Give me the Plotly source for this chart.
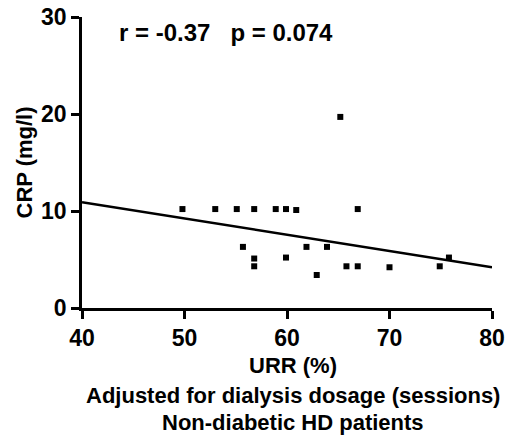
import plotly.graph_objects as go

# Data
urr = [49.8, 53.0, 55.1, 56.8, 58.9, 59.9, 60.9, 66.9, 65.2,
       55.7, 56.8, 56.8, 59.9, 61.9, 62.9, 63.9, 65.8, 66.9, 70.0, 74.9, 75.8]
crp = [10.2, 10.2, 10.2, 10.2, 10.2, 10.2, 10.1, 10.2, 19.7,
       6.3, 5.1, 4.3, 5.2, 6.3, 3.4, 6.3, 4.3, 4.3, 4.2, 4.3, 5.2]
fit_x = [40, 80]
fit_y = [10.9, 4.2]
x_ticks = [40, 50, 60, 70, 80]
y_ticks = [0, 10, 20, 30]

FONT = "Liberation Sans, Arial, sans-serif"

fig = go.Figure()
fig.add_trace(go.Scatter(x=fit_x, y=fit_y, mode="lines",
                         line=dict(color="black", width=2.5), showlegend=False,
                         cliponaxis=False))
fig.add_trace(go.Scatter(x=urr, y=crp, mode="markers",
                         marker=dict(symbol="square", size=6, color="black"),
                         showlegend=False))

axis_common = dict(showgrid=False, zeroline=False, automargin=False,
                   showline=True, linecolor="black", linewidth=2.5,
                   ticks="outside", ticklen=8, tickwidth=2.5, tickcolor="black",
                   ticklabeloverflow="allow",
                   tickfont=dict(size=23, family=FONT, weight="bold"), fixedrange=True)

# page body has an 8px margin, so the figure is offset by (8, 8)
fig.update_layout(
    width=505, height=431,
    margin=dict(l=74, r=21, t=9, b=131),
    paper_bgcolor="white", plot_bgcolor="white",
    font=dict(family=FONT, color="black"),
    xaxis=dict(range=[40, 80], tickvals=x_ticks, **axis_common),
    yaxis=dict(range=[0, 30], tickvals=y_ticks, **axis_common),
)

fig.add_annotation(xref="paper", yref="paper", x=0, y=0.5, xshift=-58,
                   xanchor="center", yanchor="middle", showarrow=False, textangle=-90,
                   text="<b>CRP (mg/l)</b>", font=dict(size=22, family=FONT))

fig.add_annotation(xref="paper", yref="paper", x=0, y=1, xshift=35, yshift=-15,
                   xanchor="left", yanchor="middle", showarrow=False,
                   text="<b>r = -0.37   p = 0.074</b>", font=dict(size=24, family=FONT))

for txt, shift in [("URR (%)", -57), ("Adjusted for dialysis dosage (sessions)", -87),
                   ("Non-diabetic HD patients", -114)]:
    fig.add_annotation(xref="paper", yref="paper", x=0.5, y=0, yshift=shift, xshift=6,
                       xanchor="center", yanchor="middle", showarrow=False,
                       text="<b>" + txt + "</b>", font=dict(size=22, family=FONT))

fig.write_html("out.html")
